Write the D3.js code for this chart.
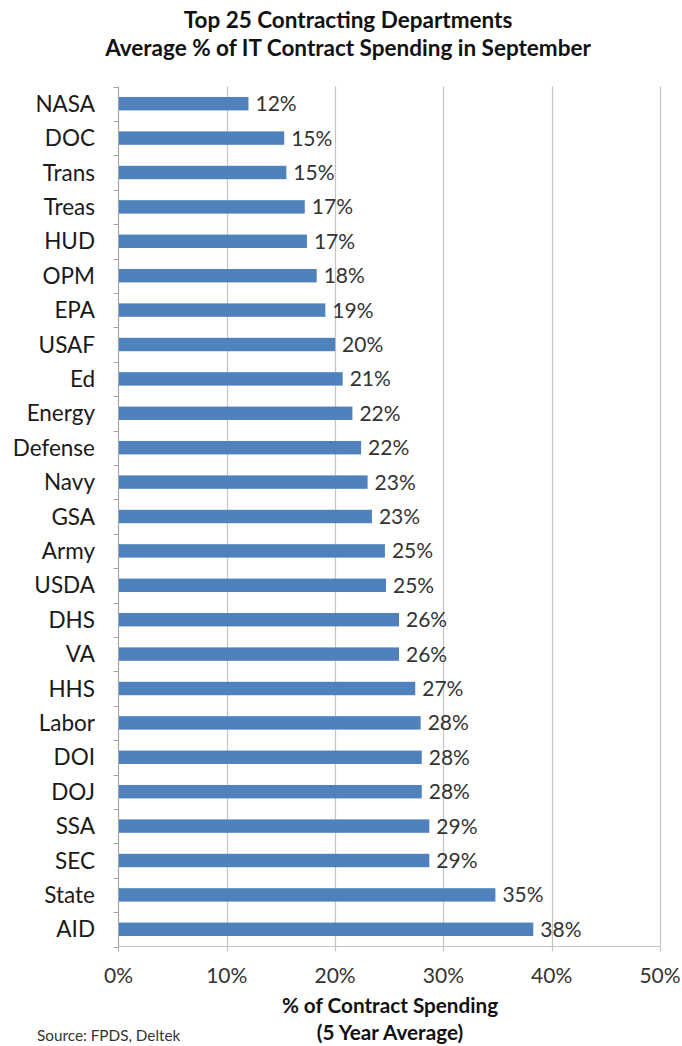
<!DOCTYPE html>
<html><head><meta charset="utf-8">
<script src="https://cdn.jsdelivr.net/npm/d3@7"></script>
<style>body{margin:0;background:#fff;} text{font-family:Lato,"Open Sans",sans-serif;}</style>
</head><body>
<svg id="c" width="682" height="1046"></svg>
<script>
const categories = ["NASA","DOC","Trans","Treas","HUD","OPM","EPA","USAF","Ed","Energy","Defense","Navy","GSA","Army","USDA","DHS","VA","HHS","Labor","DOI","DOJ","SSA","SEC","State","AID"];
const values = [12.0,15.3,15.5,17.2,17.4,18.3,19.1,20.0,20.7,21.6,22.4,23.0,23.4,24.6,24.7,25.9,25.9,27.4,27.9,28.0,28.0,28.7,28.7,34.8,38.3];
const labels = ["12%","15%","15%","17%","17%","18%","19%","20%","21%","22%","22%","23%","23%","25%","25%","26%","26%","27%","28%","28%","28%","29%","29%","35%","38%"];
const xTicks = [0,10,20,30,40,50];
const titleLines = ["Top 25 Contracting Departments","Average % of IT Contract Spending in September"];
const axisTitleLines = ["% of Contract Spending","(5 Year Average)"];
const source = "Source: FPDS, Deltek";

const svg = d3.select("#c");
const L=118.5,R=660,T=86.5,B=946.5;
const x = d3.scaleLinear().domain([0,50]).range([L,R]);
const y = d3.scaleBand().domain(categories).range([T,B]).paddingInner(0.61).paddingOuter(0.305);
const yb = d3.scaleBand().domain(categories).range([T,B]);

// gridlines
svg.append("g").selectAll("line").data(xTicks.slice(1)).join("line")
  .attr("x1",d=>Math.round(x(d))+0.5).attr("x2",d=>Math.round(x(d))+0.5).attr("y1",T).attr("y2",B+5)
  .attr("stroke","#c4c4c4").attr("stroke-width",1.2);
svg.append("line").attr("x1",x(0)).attr("x2",x(0)).attr("y1",B).attr("y2",B+5).attr("stroke","#a6a6a6");
// bottom axis line
svg.append("line").attr("x1",L).attr("x2",R).attr("y1",B).attr("y2",B).attr("stroke","#c4c4c4").attr("stroke-width",1.2);
// y axis line and ticks
svg.append("line").attr("x1",L).attr("x2",L).attr("y1",T).attr("y2",B).attr("stroke","#a6a6a6").attr("stroke-width",1.2);
const bounds = categories.map(c=>yb(c)).concat([B]);
svg.append("g").selectAll("line").data(bounds).join("line")
  .attr("x1",L-5).attr("x2",L).attr("y1",d=>Math.round(d)+0.5).attr("y2",d=>Math.round(d)+0.5).attr("stroke","#a6a6a6");

// bars
svg.append("g").selectAll("rect").data(values).join("rect")
  .attr("x",x(0)+0.5).attr("y",(d,i)=>y(categories[i]))
  .attr("width",d=>x(d)-x(0)-0.5).attr("height",y.bandwidth())
  .attr("fill","#4f81bd");
// data labels
svg.append("g").selectAll("text").data(values).join("text")
  .attr("x",d=>x(d)+7).attr("y",(d,i)=>y(categories[i])+y.bandwidth()/2)
  .attr("dy","0.36em").attr("font-size",21).attr("fill","#333")
  .text((d,i)=>labels[i]);
// category labels
svg.append("g").selectAll("text").data(categories).join("text")
  .attr("x",95).attr("y",d=>y(d)+y.bandwidth()/2).attr("dy","0.36em")
  .attr("text-anchor","end").attr("font-size",22.5).attr("fill","#1a1a1a").text(d=>d);
// x tick labels
svg.append("g").selectAll("text").data(xTicks).join("text")
  .attr("x",d=>x(d)).attr("y",983).attr("text-anchor","middle")
  .attr("font-size",21).attr("fill","#333").text(d=>d+"%");
// title
svg.append("g").selectAll("text").data(titleLines).join("text")
  .attr("x",348).attr("y",(d,i)=>28+i*27.5).attr("text-anchor","middle")
  .attr("font-size",22.5).attr("font-weight","bold").attr("fill","#111").text(d=>d);
// axis title
svg.append("g").selectAll("text").data(axisTitleLines).join("text")
  .attr("x",390).attr("y",(d,i)=>1013+i*27).attr("text-anchor","middle")
  .attr("font-size",20.7).attr("font-weight","bold").attr("fill","#111").text(d=>d);
svg.append("text").attr("x",37).attr("y",1041).attr("font-size",15.3).attr("fill","#333").text(source);
</script>
</body></html>
